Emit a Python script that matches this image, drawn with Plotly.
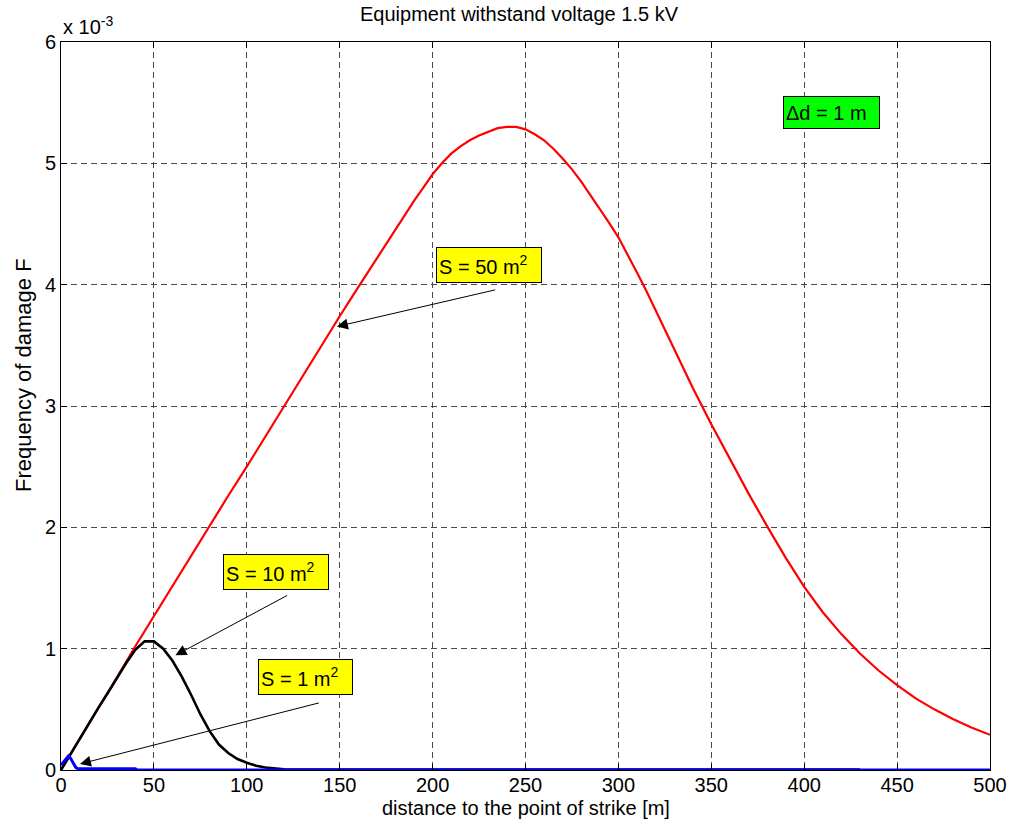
import plotly.graph_objects as go

# ---- data (frequency of damage in units of 1e-3) ----
red_d = [0, 10, 20, 30, 40, 50, 60, 70, 80, 90, 100,
         110, 120, 130, 140, 150, 160, 170, 180, 185, 190, 195,
         200, 205, 210, 215, 220, 225, 230, 235, 240, 245,
         250, 255, 260, 265, 270, 275, 280, 285, 290, 295,
         300, 305, 310, 315, 320, 330, 340, 350, 360, 370, 380, 390,
         400, 410, 420, 430, 440, 450, 460, 470, 480, 490, 500]
red_f = [0.00, 0.25, 0.51, 0.76, 1.02, 1.27, 1.52, 1.76, 2.01, 2.26, 2.50,
         2.75, 3.00, 3.25, 3.50, 3.74, 3.98, 4.22, 4.46, 4.58, 4.69, 4.80,
         4.91, 5.00, 5.08, 5.14, 5.19, 5.23, 5.26, 5.29, 5.30, 5.30,
         5.28, 5.24, 5.19, 5.12, 5.04, 4.95, 4.85, 4.74, 4.63, 4.51,
         4.39, 4.25, 4.10, 3.95, 3.79, 3.47, 3.15, 2.85, 2.56, 2.28, 2.01, 1.75,
         1.51, 1.30, 1.12, 0.96, 0.82, 0.70, 0.59, 0.50, 0.42, 0.35, 0.29]

black_d = [0, 5, 10, 15, 20, 25, 30, 35, 40, 45, 50, 55, 60, 65, 70, 75, 80,
           85, 90, 95, 100, 105, 110, 115, 120, 430]
black_f = [0.0, 0.13, 0.25, 0.38, 0.51, 0.63, 0.76, 0.88, 0.99, 1.06, 1.06,
           1.00, 0.90, 0.77, 0.62, 0.46, 0.32, 0.21, 0.14, 0.09, 0.06, 0.035,
           0.02, 0.01, 0.005, 0.003]

blue_d = [0, 1, 2, 3, 4, 5, 6, 7, 8, 9, 40, 41, 500]
blue_f = [0.04, 0.06, 0.08, 0.10, 0.115, 0.10, 0.07, 0.04, 0.02, 0.012, 0.01,
          0.0, 0.0]

x_ticks = [0, 50, 100, 150, 200, 250, 300, 350, 400, 450, 500]
y_ticks = [0, 1, 2, 3, 4, 5, 6]

title_text = "Equipment withstand voltage 1.5 kV"
x_title = "distance to the point of strike [m]"
y_title = "Frequency of damage F"

FONT = "Arial, 'Liberation Sans', sans-serif"
FS = 20

fig = go.Figure()
fig.add_trace(go.Scatter(x=red_d, y=red_f, mode="lines",
                         line=dict(color="#ff0000", width=2.2), showlegend=False))
fig.add_trace(go.Scatter(x=black_d, y=black_f, mode="lines",
                         line=dict(color="#000000", width=2.6), showlegend=False))
fig.add_trace(go.Scatter(x=blue_d, y=blue_f, mode="lines",
                         line=dict(color="#0000ff", width=3), showlegend=False))

axis_common = dict(
    showline=True, linecolor="black", linewidth=1, mirror="ticks",
    ticks="inside", ticklen=6, tickcolor="black", automargin=False,
    showgrid=True, gridcolor="#4a4a4a", gridwidth=1, griddash="6px,4px",
    zeroline=False, tickfont=dict(family=FONT, size=FS, color="black"),
)

fig.update_xaxes(range=[0, 500], tickvals=x_ticks, ticklabelstandoff=-3,
                 **axis_common)
fig.update_yaxes(range=[0, 6], tickvals=y_ticks, **axis_common)

annotations = []


def box(text, x, y, bg, w, h):
    return dict(text=text, x=x, y=y, xref="x", yref="y", showarrow=False,
                bgcolor=bg, bordercolor="black", borderwidth=1, borderpad=2,
                width=w, height=h, align="left",
                font=dict(family=FONT, size=FS, color="black"))


annotations.append(box("S = 50 m<sup>2</sup>", 230.5, 4.16, "#ffff00", 100, 30))
annotations.append(box("S = 10 m<sup>2</sup>", 115.5, 1.63, "#ffff00", 100, 30))
annotations.append(box("S = 1 m<sup>2</sup>", 131.5, 0.77, "#ffff00", 89, 30))
annotations.append(box("Δd = 1 m", 414.8, 5.42, "#00ff00", 91, 27))


def arrow(x, y, ax, ay):
    return dict(text="", x=x, y=y, ax=ax, ay=ay, xref="x", yref="y",
                axref="x", ayref="y", showarrow=True, arrowhead=2,
                arrowsize=2.2, arrowwidth=1, arrowcolor="black")


annotations.append(arrow(148.5, 3.655, 234.5, 3.96))
annotations.append(arrow(61.6, 0.945, 122.5, 1.445))
annotations.append(arrow(10.2, 0.05, 139.6, 0.556))

annotations.append(dict(text="x 10<sup>-3</sup>", xref="paper", yref="paper",
                        x=0, y=1, xanchor="left", yanchor="bottom", yshift=2,
                        showarrow=False, font=dict(family=FONT, size=FS, color="black")))
annotations.append(dict(text=x_title, xref="paper", yref="paper", x=0.5, y=0,
                        xanchor="center", yanchor="middle", yshift=-38,
                        showarrow=False, font=dict(family=FONT, size=FS, color="black")))
annotations.append(dict(text=y_title, xref="paper", yref="paper", x=0,
                        y=(770 - 375) / 728,
                        xanchor="center", yanchor="middle", xshift=-38,
                        textangle=-90, showarrow=False,
                        font=dict(family=FONT, size=22, color="black")))

fig.update_layout(
    width=1009, height=824,
    margin=dict(l=61, r=19, t=42, b=54),
    paper_bgcolor="white", plot_bgcolor="white",
    title=dict(text=title_text, x=0.493, xref="paper", y=1 - 14 / 824,
               yref="container", xanchor="center", yanchor="middle",
               font=dict(family=FONT, size=FS, color="black")),
    annotations=annotations,
    showlegend=False,
)

fig.write_html("out.html", config={"displayModeBar": False},
               post_script="document.body.style.margin='0';document.body.style.overflow='hidden';")
